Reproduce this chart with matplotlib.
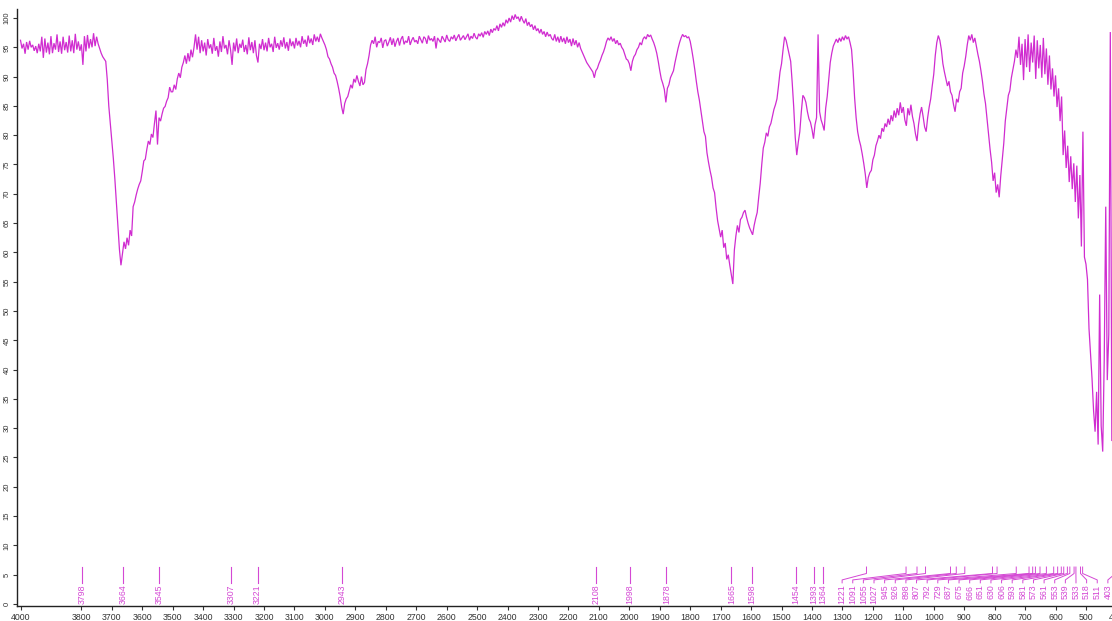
import numpy as np
import matplotlib
matplotlib.use("Agg")
import matplotlib.pyplot as plt

plt.rcParams['font.family'] = ['Liberation Sans', 'DejaVu Sans']

# Transmittance (%T) sampled every 5 cm-1 from 4000 down to 400 cm-1
t_4000_3505 = [
    96.2, 94.8, 95.6, 93.9, 95.9, 94.6, 96.1, 95.0, 95.4, 94.4,
    95.2, 94.0, 95.6, 94.3, 96.8, 93.2, 96.5, 94.1, 95.8, 93.8,
    96.9, 94.0, 95.7, 94.6, 97.2, 94.2, 96.0, 93.9, 96.8, 94.5,
    95.9, 94.1, 97.0, 94.3, 96.2, 94.0, 97.3, 94.6, 96.0, 94.4,
    95.5, 92.0, 96.9, 94.3, 97.1, 94.8, 96.4, 95.0, 97.4, 95.2,
    96.8, 95.6, 94.8, 94.0, 93.4, 93.0, 92.6, 89.5, 85.0, 82.0,
    78.8, 76.0, 72.5, 68.5, 64.5, 60.5, 57.8, 59.8, 61.8, 60.6,
    62.5, 61.2, 63.8, 62.8, 67.8, 68.6, 69.8, 70.8, 71.6, 72.2,
    73.8, 75.6, 75.9, 77.6, 79.0, 78.4, 80.2, 79.6, 82.0, 84.2,
    78.4, 83.0, 82.4, 83.6, 84.6, 84.9, 85.8, 86.4, 88.2, 87.4,
]
t_3500_3005 = [
    87.4, 88.6, 87.8, 89.6, 90.6, 89.8, 91.6, 92.4, 93.6, 92.2,
    94.0, 92.6, 94.6, 93.3, 95.0, 97.2, 94.6, 96.8, 94.0, 96.2,
    94.3, 95.8, 93.6, 96.4, 94.8, 95.5, 93.9, 96.6, 94.4, 95.2,
    93.4, 96.0, 94.2, 96.9, 94.8, 95.4, 93.8, 96.2, 94.6, 92.0,
    95.8, 94.3, 96.5, 94.0, 95.6, 94.9, 96.3, 94.2, 95.4, 93.8,
    96.7, 94.5, 95.9, 94.0, 96.2, 93.6, 92.4, 95.6, 94.7, 96.4,
    94.5, 95.8, 94.3, 96.6, 95.0, 95.6, 94.2, 96.8, 94.9, 95.7,
    94.6, 96.2, 95.1, 96.7, 94.8, 95.9, 94.4, 96.5, 95.2, 96.0,
    94.8, 96.6, 95.3, 96.1, 95.0, 96.9, 95.6, 96.3, 95.1, 97.0,
    95.7, 96.5, 95.4, 97.2, 96.0, 96.8, 95.9, 97.3, 96.6, 96.0,
]
t_3000_2505 = [
    95.4, 94.6, 93.4, 93.0, 92.2, 91.6, 90.6, 90.2, 89.2, 88.0,
    86.6, 84.8, 83.6, 85.4, 86.2, 86.6, 87.6, 88.6, 88.0, 89.6,
    89.0, 90.2, 89.2, 88.4, 90.0, 88.6, 89.0, 91.2, 92.2, 93.6,
    95.4, 96.2, 95.6, 96.8, 95.0, 96.0, 95.8, 96.6, 94.9, 96.1,
    96.3, 95.2, 95.9, 96.7, 95.4, 96.5, 95.1, 96.0, 96.6, 95.3,
    96.4, 96.9, 95.5, 96.1, 95.8, 96.9, 95.4, 96.2, 96.7, 95.9,
    96.2, 95.6, 96.9, 96.3, 95.7, 96.8, 96.5, 95.6, 97.0, 96.2,
    96.5, 96.0, 96.9, 94.8, 96.6, 96.2, 95.8, 96.9, 96.4, 95.9,
    97.1, 96.3, 96.0, 96.8, 96.4, 97.1, 96.1, 96.7, 97.2, 96.2,
    96.6, 97.0, 96.3, 96.8, 97.3, 96.2, 96.9, 96.5, 97.4, 96.7,
]
t_2500_2005 = [
    96.4, 97.3, 96.9, 97.5, 96.7, 97.7, 97.2, 97.8, 97.0, 98.1,
    97.5, 98.2, 97.9, 98.7, 97.8, 99.0, 98.4, 99.2, 98.6, 99.7,
    99.1, 100.0, 99.3, 100.4, 99.7, 100.6, 99.9, 100.2, 99.4, 100.3,
    99.6, 99.1, 99.9, 98.7, 99.3, 98.5, 98.9, 98.0, 98.7, 97.8,
    98.2, 97.4, 98.1, 97.2, 97.7, 96.8, 97.6, 96.9, 97.2, 96.5,
    96.2, 97.2, 96.0, 96.8, 95.8, 96.9, 95.9, 96.6, 95.6, 96.8,
    95.8, 96.4, 95.2, 96.5, 95.4, 96.2, 95.0, 95.8, 94.8, 94.2,
    93.6, 93.0, 92.4, 92.0, 91.6, 91.2, 90.8, 89.8, 91.0, 91.4,
    92.2, 92.8, 93.6, 94.2, 95.0, 96.0, 96.6, 96.2, 96.8, 96.0,
    96.5, 95.6, 96.2, 95.4, 95.7, 95.0, 94.6, 93.8, 93.0, 92.8,
]
t_2000_1505 = [
    92.2, 91.0, 92.6, 93.4, 93.8, 94.6, 95.0, 95.8, 95.4, 96.4,
    96.8, 96.4, 97.2, 96.8, 97.1, 96.4, 95.8, 95.0, 94.0, 92.6,
    91.0, 89.6, 88.8, 87.8, 85.6, 88.0, 88.6, 89.8, 90.4, 91.0,
    92.4, 93.6, 94.8, 95.8, 96.6, 97.2, 96.8, 97.0, 96.6, 96.8,
    96.0, 94.6, 93.0, 91.2, 89.2, 87.4, 86.0, 84.2, 82.4, 80.6,
    79.8, 77.0, 75.4, 74.0, 72.8, 71.0, 70.2, 67.6, 65.4, 64.0,
    62.6, 63.8, 60.8, 61.6, 58.8, 59.6, 57.8, 56.2, 54.6, 60.4,
    62.8, 64.6, 63.4, 65.6, 66.0, 66.8, 67.2, 66.0, 65.0, 64.2,
    63.6, 63.0, 64.6, 65.8, 66.8, 69.4, 71.8, 75.0, 77.8, 78.8,
    80.4, 79.8, 81.4, 82.0, 83.2, 84.4, 85.2, 86.2, 88.4, 90.8,
]
t_1500_1005 = [
    92.2, 94.6, 96.8, 96.2, 95.0, 93.8, 92.6, 89.0, 84.8, 79.6,
    76.6, 78.8, 80.6, 84.0, 86.8, 86.4, 85.6, 84.0, 82.8, 82.2,
    81.0, 79.4, 81.8, 83.0, 97.2, 84.0, 82.6, 81.8, 80.8, 84.6,
    86.6, 89.4, 92.4, 94.0, 95.2, 95.8, 96.4, 95.8, 96.6, 96.0,
    96.8, 96.2, 97.0, 96.4, 96.8, 95.8, 94.6, 91.0, 86.4, 83.0,
    80.6, 79.2, 78.2, 76.8, 75.2, 73.4, 71.0, 72.8, 73.6, 74.0,
    75.8, 76.6, 78.2, 79.0, 80.0, 79.4, 81.2, 80.6, 82.0, 81.4,
    82.8, 81.8, 83.4, 82.4, 84.2, 83.0, 84.6, 83.4, 85.6, 83.8,
    84.8, 82.6, 81.6, 84.6, 83.4, 85.2, 83.2, 82.0, 80.2, 79.0,
    81.8, 83.6, 84.8, 83.2, 81.4, 80.6, 83.0, 84.8, 86.2, 88.4,
]
t_1000_505 = [
    90.4, 93.6, 95.8, 97.0, 96.2, 94.6, 92.2, 90.8, 89.6, 88.4,
    89.2, 87.4, 86.8, 85.2, 84.0, 86.2, 85.6, 87.4, 88.0, 90.6,
    91.8, 93.4, 95.4, 97.0, 96.2, 97.2, 95.8, 96.6, 95.2, 93.8,
    92.6, 91.0, 89.2, 87.0, 85.4, 82.8, 80.2, 77.6, 75.4, 72.2,
    73.6, 70.2, 71.6, 69.4, 73.0, 75.8, 78.6, 82.4, 84.6, 86.8,
    87.6, 89.8, 91.2, 92.6, 94.6, 93.2, 96.8, 92.0, 95.6, 89.4,
    96.4, 91.6, 97.2, 90.8, 95.8, 92.4, 97.0, 89.6, 96.2, 91.4,
    95.4, 89.8, 96.6, 90.4, 94.8, 88.6, 93.6, 87.8, 91.4, 86.6,
    90.2, 84.8, 88.0, 82.4, 86.6, 76.6, 80.8, 74.4, 78.2, 72.0,
    76.4, 70.8, 75.2, 68.6, 74.8, 65.8, 73.2, 61.0, 80.6, 59.2,
]
t_500_400 = [
    58.0, 55.4, 47.0, 42.6, 38.4, 33.0, 29.4, 36.2, 27.2, 52.8,
    30.4, 26.0, 41.6, 67.8, 38.2, 46.0, 97.6, 27.8, 45.0, 38.0,
    42.0,
]

# Annotated band positions (cm-1)
peaks_single = [3798, 3664, 3545, 3307, 3221, 2943, 2108, 1998, 1878,
                1665, 1598, 1454, 1393, 1364]
peaks_fan = [1221, 1091, 1055, 1027, 945, 926, 898, 807, 792, 729, 687,
             675, 666, 651, 630, 606, 593, 581, 573, 561, 553, 539, 533,
             518, 511, 403]

x_ticks = [4000, 3800, 3700, 3600, 3500, 3400, 3300, 3200, 3100, 3000,
           2900, 2800, 2700, 2600, 2500, 2400, 2300, 2200, 2100, 2000,
           1900, 1800, 1700, 1600, 1500, 1400, 1300, 1200, 1100, 1000,
           900, 800, 700, 600, 500, 400]
y_ticks = list(range(0, 101, 5))

transmittance = np.concatenate([t_4000_3505, t_3500_3005, t_3000_2505,
                                t_2500_2005, t_2000_1505, t_1500_1005,
                                t_1000_505, t_500_400])
wavenumber = np.arange(4000, 399, -5)[:len(transmittance)]

W, H = 1112, 621
fig = plt.figure(figsize=(W / 100, H / 100), dpi=100)
ax_left, ax_right, ax_bottom, ax_top = 17, 1116.4, 606, 9.2
ax = fig.add_axes([ax_left / W, (H - ax_bottom) / H,
                   (ax_right - ax_left) / W, (ax_bottom - ax_top) / H])

line_color = '#d02cd0'
label_color = '#d448d4'

ax.plot(wavenumber, transmittance, color=line_color, lw=0.9,
        solid_joinstyle='miter')

ax.set_xlim(4011.5, 400)
ax.set_ylim(-0.35, 101.5)

# Peak markers with rotated labels
for p in peaks_single:
    ax.plot([p, p], [6.3, 3.6], color=label_color, lw=0.8)
    ax.text(p, 3.35, str(p), rotation=90, ha='center', va='top',
            fontsize=6.3, color=label_color)

fan_start, fan_end = 1301, 428
n = len(peaks_fan)
for i, p in enumerate(peaks_fan):
    lx = fan_start + (fan_end - fan_start) * i / (n - 1)
    ax.plot([p, p, lx, lx], [6.3, 5.2, 4.1, 3.6], color=label_color, lw=0.7)
    ax.text(lx, 3.3, str(p), rotation=90, ha='center', va='top',
            fontsize=6.3, color=label_color)

ax.set_xticks(x_ticks)
ax.set_xticklabels([str(t) for t in x_ticks], fontsize=6.3, color='#333333')
ax.set_yticks(y_ticks)
ax.set_yticklabels([str(t) for t in y_ticks], fontsize=5.5, color='#333333',
                   rotation=90, va='center')
ax.tick_params(axis='x', length=3, width=0.8, pad=2, colors='#333333')
ax.tick_params(axis='y', length=3, width=0.8, pad=1.5, colors='#333333')

for s in ('top', 'right'):
    ax.spines[s].set_visible(False)
for s in ('left', 'bottom'):
    ax.spines[s].set_linewidth(1.0)
    ax.spines[s].set_color('#222222')

fig.savefig('out.png', dpi=100)
